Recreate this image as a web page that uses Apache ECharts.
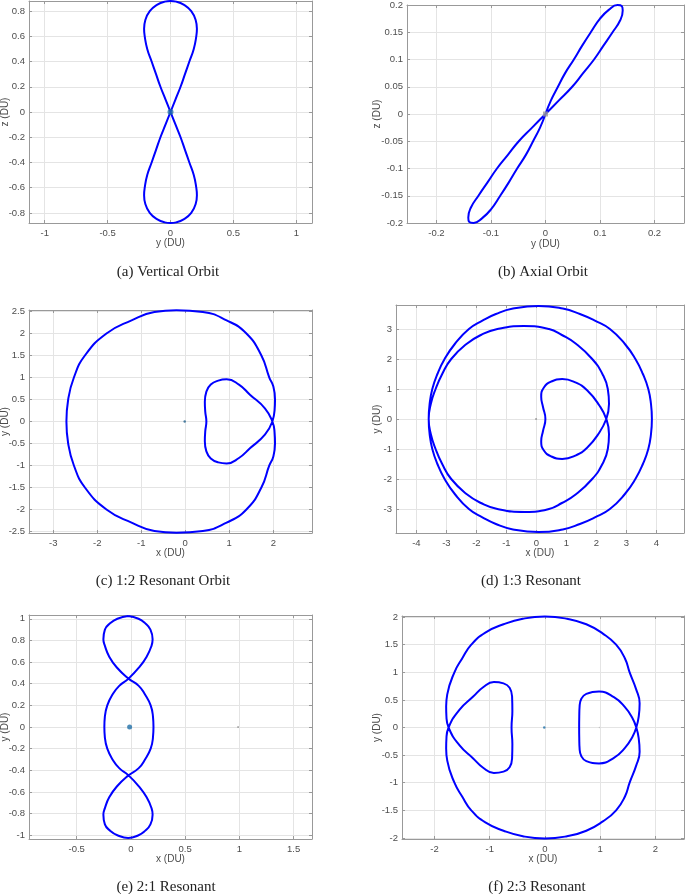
<!DOCTYPE html>
<html>
<head>
<meta charset="utf-8">
<title>Periodic orbits</title>
<script src="https://cdn.jsdelivr.net/npm/echarts@6.0.0/dist/echarts.min.js"></script>
<style>
  html, body { margin: 0; padding: 0; background: #fff; }
  #main { width: 685px; height: 894px; }
</style>
</head>
<body>
<div id="main"></div>
<script>
// (a) vertical orbit, [y, z]
var verticalOrbit = [
  [0, 0], [0.04, 0.1], [0.08, 0.2], [0.115, 0.3], [0.15, 0.4], [0.185, 0.5], [0.205, 0.6], [0.21, 0.66],
  [0.2, 0.73], [0.165, 0.8], [0.108, 0.85], [0.046, 0.875], [0, 0.88], [-0.046, 0.875], [-0.108, 0.85],
  [-0.165, 0.8], [-0.2, 0.73], [-0.21, 0.66], [-0.205, 0.6], [-0.185, 0.5], [-0.15, 0.4], [-0.115, 0.3],
  [-0.08, 0.2], [-0.04, 0.1], [0, 0],
  [0.04, -0.1], [0.08, -0.2], [0.115, -0.3], [0.15, -0.4], [0.185, -0.5], [0.205, -0.6], [0.21, -0.66],
  [0.2, -0.73], [0.165, -0.8], [0.108, -0.85], [0.046, -0.875], [0, -0.88], [-0.046, -0.875], [-0.108, -0.85],
  [-0.165, -0.8], [-0.2, -0.73], [-0.21, -0.66], [-0.205, -0.6], [-0.185, -0.5], [-0.15, -0.4], [-0.115, -0.3],
  [-0.08, -0.2], [-0.04, -0.1], [0, 0]
];

// (b) axial orbit, [y, z]
var axialOrbit = [
  [0, 0], [0.01, 0.025], [0.0228, 0.05], [0.036, 0.075], [0.052, 0.1], [0.067, 0.125], [0.083, 0.15],
  [0.1, 0.175], [0.116, 0.191], [0.132, 0.2], [0.14, 0.198], [0.1416, 0.19], [0.137, 0.172], [0.123, 0.15],
  [0.106, 0.125], [0.089, 0.1], [0.069, 0.075], [0.049, 0.05], [0.0246, 0.025], [0, 0],
  [-0.0246, -0.025], [-0.049, -0.05], [-0.069, -0.075], [-0.089, -0.1], [-0.106, -0.125], [-0.123, -0.15],
  [-0.137, -0.172], [-0.1416, -0.19], [-0.14, -0.198], [-0.132, -0.2], [-0.116, -0.191], [-0.1, -0.175],
  [-0.083, -0.15], [-0.067, -0.125], [-0.052, -0.1], [-0.036, -0.075], [-0.0228, -0.05], [-0.01, -0.025], [0, 0]
];

// (c) 1:2 resonant, [x, y]
var resonant12 = [
  [1.98, 0], [1.81, -0.3], [1.47, -0.61], [1.22, -0.83], [0.94, -0.955], [0.75, -0.93], [0.58, -0.84],
  [0.48, -0.68], [0.445, -0.45], [0.455, -0.22], [0.48, 0], [0.455, 0.22], [0.445, 0.45], [0.48, 0.68],
  [0.58, 0.84], [0.75, 0.93], [0.94, 0.96], [1.22, 0.84], [1.47, 0.61], [1.81, 0.3], [1.98, 0],
  [2.03, -0.25], [2.04, -0.5], [2.0, -0.8], [1.91, -1.0], [1.73, -1.5], [1.39, -2.0], [0.94, -2.3],
  [0.4, -2.49], [-0.2, -2.53], [-0.7, -2.49], [-1.22, -2.3], [-1.79, -2.0], [-2.28, -1.5], [-2.53, -1.0],
  [-2.66, -0.5], [-2.7, 0], [-2.66, 0.5], [-2.53, 1.0], [-2.28, 1.5], [-1.79, 2.0], [-1.22, 2.3],
  [-0.7, 2.49], [-0.2, 2.53], [0.4, 2.49], [0.94, 2.3], [1.39, 2.0], [1.73, 1.5], [1.91, 1.0], [2.0, 0.8],
  [2.04, 0.5], [2.03, 0.25], [1.98, 0]
];

// (d) 1:3 resonant, [x, y]
var resonant13 = [
  [2.33, 0], [2.1, -0.45], [1.69, -0.96], [1.3, -1.22], [0.86, -1.33], [0.5, -1.25], [0.25, -1.05],
  [0.16, -0.74], [0.22, -0.4], [0.3, 0], [0.22, 0.4], [0.16, 0.74], [0.25, 1.05], [0.5, 1.25], [0.86, 1.33],
  [1.3, 1.22], [1.69, 0.96], [2.1, 0.45], [2.33, 0],
  [2.42, -0.5], [2.38, -1.0], [2.2, -1.5], [1.86, -2.0], [1.33, -2.5], [0.85, -2.8], [0.42, -3.0],
  [-0.38, -3.1], [-1.3, -3.0], [-1.85, -2.8], [-2.33, -2.5], [-2.84, -2.0], [-3.14, -1.5], [-3.36, -1.0],
  [-3.52, -0.5], [-3.59, 0],
  [-3.56, 0.5], [-3.47, 1.0], [-3.3, 1.5], [-3.06, 2.0], [-2.72, 2.5], [-2.25, 3.0], [-1.8, 3.28],
  [-1.35, 3.5], [-0.78, 3.68], [0.07, 3.77], [0.88, 3.68], [1.45, 3.5], [1.95, 3.28], [2.45, 3.0],
  [2.95, 2.5], [3.3, 2.0], [3.55, 1.5], [3.73, 1.0], [3.82, 0.5], [3.85, 0], [3.82, -0.5], [3.73, -1.0],
  [3.55, -1.5], [3.3, -2.0], [2.95, -2.5], [2.45, -3.0], [1.95, -3.28], [1.45, -3.5], [0.88, -3.68],
  [0.07, -3.77], [-0.78, -3.68], [-1.35, -3.5], [-1.8, -3.28], [-2.25, -3.0], [-2.72, -2.5], [-3.06, -2.0],
  [-3.3, -1.5], [-3.47, -1.0], [-3.56, -0.5], [-3.59, 0],
  [-3.52, 0.5], [-3.36, 1.0], [-3.14, 1.5], [-2.84, 2.0], [-2.33, 2.5], [-1.85, 2.8], [-1.3, 3.0],
  [-0.42, 3.1], [0.42, 3.0], [0.85, 2.8], [1.33, 2.5], [1.86, 2.0], [2.2, 1.5], [2.38, 1.0], [2.42, 0.5],
  [2.33, 0]
];

// (e) 2:1 resonant, [x, y]
var resonant21 = [
  [-0.025, 1.025], [0.07, 1.0], [0.13, 0.96], [0.18, 0.9], [0.2, 0.81], [0.19, 0.75], [0.145, 0.65],
  [0.075, 0.55], [-0.022, 0.447], [-0.108, 0.38], [-0.17, 0.3], [-0.218, 0.2], [-0.24, 0.1], [-0.245, 0],
  [-0.24, -0.1], [-0.218, -0.2], [-0.17, -0.3], [-0.108, -0.38], [-0.022, -0.447], [0.075, -0.55],
  [0.145, -0.65], [0.19, -0.75], [0.2, -0.81], [0.18, -0.9], [0.13, -0.96], [0.07, -1.0], [-0.025, -1.025],
  [-0.125, -1.0], [-0.19, -0.96], [-0.24, -0.9], [-0.254, -0.81], [-0.24, -0.75], [-0.2, -0.65],
  [-0.13, -0.55], [-0.022, -0.447], [0.072, -0.38], [0.13, -0.3], [0.182, -0.2], [0.203, -0.1], [0.208, 0],
  [0.203, 0.1], [0.182, 0.2], [0.13, 0.3], [0.072, 0.38], [-0.022, 0.447], [-0.13, 0.55], [-0.2, 0.65],
  [-0.24, 0.75], [-0.254, 0.81], [-0.24, 0.9], [-0.19, 0.96], [-0.125, 1.0], [-0.025, 1.025]
];

// (f) 2:3 resonant, [x, y]
var resonant23 = [
  [1.656, 0], [1.58, -0.18], [1.45, -0.37], [1.25, -0.55], [0.98, -0.65], [0.75, -0.61], [0.66, -0.52],
  [0.628, -0.38], [0.622, -0.2], [0.62, 0], [0.622, 0.2], [0.628, 0.38], [0.66, 0.52], [0.75, 0.61],
  [0.98, 0.65], [1.25, 0.55], [1.45, 0.37], [1.58, 0.18], [1.656, 0],
  [1.7, -0.2], [1.716, -0.44], [1.65, -0.7], [1.535, -1.0], [1.45, -1.25], [1.29, -1.5], [1.05, -1.7],
  [0.75, -1.87], [0.4, -1.97], [0, -2.01], [-0.4, -1.97], [-0.75, -1.87], [-1.08, -1.72], [-1.335, -1.5],
  [-1.5, -1.25], [-1.64, -1.0], [-1.77, -0.6], [-1.79, -0.38], [-1.785, -0.2], [-1.746, 0],
  [-1.55, 0.32], [-1.3, 0.56], [-1.12, 0.73], [-0.925, 0.825], [-0.75, 0.8], [-0.64, 0.72], [-0.595, 0.55],
  [-0.59, 0.3], [-0.605, 0], [-0.59, -0.3], [-0.595, -0.55], [-0.64, -0.72], [-0.75, -0.8], [-0.925, -0.825],
  [-1.12, -0.73], [-1.3, -0.56], [-1.55, -0.32], [-1.746, 0],
  [-1.785, 0.2], [-1.79, 0.38], [-1.77, 0.6], [-1.64, 1.0], [-1.5, 1.25], [-1.335, 1.5], [-1.08, 1.72],
  [-0.75, 1.87], [-0.4, 1.97], [0, 2.01], [0.4, 1.97], [0.75, 1.87], [1.05, 1.7], [1.29, 1.5], [1.45, 1.25],
  [1.535, 1.0], [1.65, 0.7], [1.716, 0.44], [1.7, 0.2], [1.656, 0]
];

// primaries (Earth / Moon) shown as dots
var earthYZ = [[0, 0]];
var earthXY = [[-0.012, 0]];
var moonXY = [[0.988, 0]];

var panels = [
  { data: verticalOrbit, grid: { left: 29, top: 1, width: 283, height: 222 }, x: [-1.125, 1.125, 0.5], y: [-0.88, 0.88, 0.2],
    xName: 'y (DU)', yName: 'z (DU)', xGap: 15, yGap: 19, caption: '(a) Vertical Orbit', cap: [168, 272],
    dots: [{ data: earthYZ, size: 6, color: '#1f6fa8', symbol: 'circle' }] },
  { data: axialOrbit, grid: { left: 407, top: 5, width: 277, height: 218 }, x: [-0.254, 0.254, 0.1], y: [-0.2, 0.2, 0.05],
    xName: 'y (DU)', yName: 'z (DU)', xGap: 16, yGap: 25, caption: '(b) Axial Orbit', cap: [543, 272],
    dots: [{ data: earthYZ, size: 5, color: '#9a9a9a', symbol: 'rect' }] },
  { data: resonant12, grid: { left: 29, top: 310, width: 283, height: 223 }, x: [-3.55, 2.88, 1], y: [-2.535, 2.535, 0.5],
    xName: 'x (DU)', yName: 'y (DU)', xGap: 15, yGap: 19, caption: '(c) 1:2 Resonant Orbit', cap: [163, 581],
    dots: [{ data: earthXY, size: 2.5, color: '#1f5f8b', symbol: 'circle' }, { data: moonXY, size: 1.5, color: '#bbbbbb', symbol: 'circle' }] },
  { data: resonant13, grid: { left: 396, top: 305, width: 288, height: 228 }, x: [-4.68, 4.92, 1], y: [-3.8, 3.8, 1],
    xName: 'x (DU)', yName: 'y (DU)', xGap: 15, yGap: 14, caption: '(d) 1:3 Resonant', cap: [531, 581],
    dots: [{ data: earthXY, size: 2, color: '#888888', symbol: 'circle' }] },
  { data: resonant21, grid: { left: 29, top: 615, width: 283, height: 224 }, x: [-0.94, 1.67, 0.5], y: [-1.035, 1.035, 0.2],
    xName: 'x (DU)', yName: 'y (DU)', xGap: 15, yGap: 19, caption: '(e) 2:1 Resonant', cap: [166, 887],
    dots: [{ data: earthXY, size: 5, color: '#1f6fa8', symbol: 'circle' }, { data: moonXY, size: 1.5, color: '#444444', symbol: 'circle' }] },
  { data: resonant23, grid: { left: 402, top: 616, width: 282, height: 223 }, x: [-2.59, 2.52, 1], y: [-2.02, 2.02, 0.5],
    xName: 'x (DU)', yName: 'y (DU)', xGap: 15, yGap: 20, caption: '(f) 2:3 Resonant', cap: [537, 887],
    dots: [{ data: earthXY, size: 2.5, color: '#1f6fa8', symbol: 'circle' }, { data: moonXY, size: 1.5, color: '#bbbbbb', symbol: 'circle' }] }
];

var AXIS_COLOR = '#999999';
var LABEL_COLOR = '#4d4d4d';
var GRID_COLOR = '#e4e4e4';
var SANS = 'Liberation Sans, Arial, sans-serif';

// true when the range end falls on a tick, so its label should show
function onTick(v, step) {
  var k = v / step;
  return Math.abs(k - Math.round(k)) < 1e-6;
}

function makeAxis(r, gridIndex, position, name, gap, main) {
  var vertical = position === 'left' || position === 'right';
  return {
    type: 'value',
    gridIndex: gridIndex,
    position: position,
    min: r[0],
    max: r[1],
    minInterval: r[2],
    maxInterval: r[2],
    splitNumber: Math.round((r[1] - r[0]) / r[2]),
    name: main ? name : '',
    nameLocation: 'middle',
    nameGap: gap,
    nameMoveOverlap: false,
    nameTextStyle: { color: LABEL_COLOR, fontSize: 10, fontFamily: SANS },
    axisLine: { show: true, onZero: false, lineStyle: { color: AXIS_COLOR, width: 1 } },
    axisTick: { show: true, inside: true, length: 3, lineStyle: { color: AXIS_COLOR } },
    axisLabel: {
      show: main,
      margin: vertical ? 4 : 5,
      fontSize: 9.5,
      color: LABEL_COLOR,
      fontFamily: SANS,
      showMinLabel: onTick(r[0], r[2]),
      showMaxLabel: onTick(r[1], r[2]),
      hideOverlap: false
    },
    splitLine: { show: main, lineStyle: { color: GRID_COLOR, width: 1 } }
  };
}

var grids = [], xAxes = [], yAxes = [], series = [], graphics = [];

panels.forEach(function (p, i) {
  grids.push(Object.assign({ containLabel: false, outerBoundsMode: 'none' }, p.grid));
  xAxes[i] = makeAxis(p.x, i, 'bottom', p.xName, p.xGap, true);
  yAxes[i] = makeAxis(p.y, i, 'left', p.yName, p.yGap, true);
  // box on the other two sides, like MATLAB's "box on"
  xAxes[i + panels.length] = makeAxis(p.x, i, 'top', '', 0, false);
  yAxes[i + panels.length] = makeAxis(p.y, i, 'right', '', 0, false);

  series.push({
    type: 'line',
    xAxisIndex: i,
    yAxisIndex: i,
    data: p.data,
    smooth: 0.5,
    showSymbol: false,
    symbol: 'none',
    lineStyle: { color: '#0000ff', width: 2 },
    z: 2
  });
  p.dots.forEach(function (d) {
    series.push({
      type: 'scatter',
      xAxisIndex: i,
      yAxisIndex: i,
      data: d.data,
      symbol: d.symbol,
      symbolSize: d.size,
      itemStyle: { color: d.color },
      z: 3
    });
  });

  graphics.push({
    type: 'text',
    x: p.cap[0],
    y: p.cap[1],
    style: {
      text: p.caption,
      fill: '#222',
      font: '15px "Liberation Serif", "Times New Roman", serif',
      textAlign: 'center',
      textVerticalAlign: 'middle'
    }
  });
});

var chart = echarts.init(document.getElementById('main'), null, { renderer: 'canvas' });
chart.setOption({
  animation: false,
  backgroundColor: '#ffffff',
  grid: grids,
  xAxis: xAxes,
  yAxis: yAxes,
  series: series,
  graphic: graphics
});
</script>
</body>
</html>
